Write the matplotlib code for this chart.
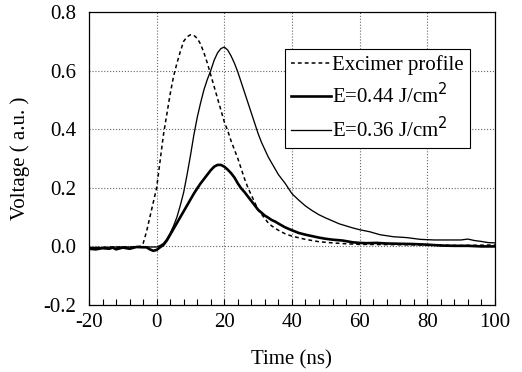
import matplotlib
matplotlib.use("Agg")
import matplotlib.pyplot as plt
from matplotlib.ticker import MultipleLocator, FuncFormatter

plt.rcParams['font.family'] = ['Liberation Serif', 'DejaVu Serif']
plt.rcParams['axes.unicode_minus'] = False

# Excimer laser pulse profile (dashed)
t_exc = [-20, -18, -16, -14, -12, -10, -8, -6, -5, -4, -3, -2, -1, 0, 1, 2, 3, 4, 5,
         6, 7, 8, 9, 10, 11, 12, 13, 14, 15, 16, 17, 18, 19, 20, 21, 22, 23, 24, 25,
         26, 27, 28, 29, 30, 31, 32, 33, 34, 36, 38, 40, 44, 48, 52, 56, 60, 70, 80,
         90, 100]
v_exc = [-0.005, -0.004, -0.003, -0.002, -0.003, -0.002, -0.003, -0.001, 0.0, 0.01,
         0.05, 0.10, 0.15, 0.20, 0.29, 0.38, 0.45, 0.52, 0.58, 0.625, 0.665, 0.70,
         0.715, 0.722, 0.72, 0.71, 0.69, 0.66, 0.625, 0.585, 0.545, 0.505, 0.465,
         0.425, 0.395, 0.36, 0.33, 0.30, 0.265, 0.23, 0.20, 0.175, 0.15, 0.125, 0.11,
         0.095, 0.08, 0.07, 0.055, 0.043, 0.035, 0.024, 0.016, 0.012, 0.009, 0.007,
         0.006, 0.005, 0.003, 0.005]

# E = 0.44 J/cm2 (thick line)
t_044 = [-20, -18, -16, -14, -13, -12, -10, -8, -6, -4, -3, -2, -1, 0, 1, 2, 3, 4, 5,
         6, 7, 8, 9, 10, 11, 12, 13, 14, 15, 16, 17, 18, 19, 20, 21, 22, 23, 24, 25,
         26, 27, 28, 29, 30, 31, 32, 33, 34, 35, 36, 38, 40, 42, 44, 46, 48, 50, 52,
         55, 58, 60, 62, 65, 68, 72, 76, 80, 84, 88, 92, 96, 100]
v_044 = [-0.008, -0.01, -0.006, -0.008, -0.004, -0.01, -0.004, -0.008, -0.002,
         -0.003, -0.003, -0.01, -0.015, -0.012, -0.003, 0.005, 0.02, 0.04, 0.06,
         0.08, 0.10, 0.12, 0.14, 0.16, 0.18, 0.198, 0.215, 0.23, 0.245, 0.26, 0.272,
         0.278, 0.278, 0.272, 0.262, 0.25, 0.235, 0.215, 0.198, 0.185, 0.17, 0.155,
         0.14, 0.125, 0.115, 0.105, 0.098, 0.09, 0.085, 0.078, 0.065, 0.055, 0.046,
         0.04, 0.035, 0.03, 0.026, 0.023, 0.02, 0.014, 0.012, 0.011, 0.012, 0.01,
         0.009, 0.008, 0.006, 0.003, 0.002, 0.002, 0.0, 0.0]

# E = 0.36 J/cm2 (thin line)
t_036 = [-20, -16, -12, -8, -4, -2, 0, 1, 2, 3, 4, 5, 6, 7, 8, 9, 10, 11, 12, 13, 14,
         15, 16, 17, 18, 19, 20, 21, 22, 23, 24, 25, 26, 27, 28, 29, 30, 31, 32, 33,
         34, 35, 36, 37, 38, 40, 42, 44, 46, 48, 50, 52, 54, 56, 58, 60, 63, 66, 70,
         74, 78, 82, 86, 90, 92, 94, 96, 98, 100]
v_036 = [-0.003, -0.004, -0.002, -0.002, -0.001, -0.002, -0.002, 0.003, 0.01, 0.025,
         0.045, 0.07, 0.10, 0.14, 0.185, 0.245, 0.31, 0.38, 0.44, 0.49, 0.535, 0.57,
         0.60, 0.635, 0.66, 0.675, 0.68, 0.67, 0.65, 0.625, 0.595, 0.56, 0.525, 0.49,
         0.455, 0.42, 0.385, 0.355, 0.33, 0.305, 0.285, 0.265, 0.245, 0.23, 0.215,
         0.18, 0.158, 0.138, 0.122, 0.108, 0.097, 0.087, 0.077, 0.07, 0.063, 0.057,
         0.05, 0.04, 0.033, 0.03, 0.024, 0.022, 0.022, 0.022, 0.025, 0.02, 0.017,
         0.013, 0.012]

fig = plt.figure(figsize=(5.22, 3.72), dpi=100)
ax = fig.add_axes([0.1705, 0.180, 0.7775, 0.788])

ax.plot(t_exc, v_exc, color='black', lw=1.1, ls=(0, (2.5, 2)), label='Excimer profile')
ax.plot(t_044, v_044, color='black', lw=1.9, label='E=0.44 J/cm$^2$')
ax.plot(t_036, v_036, color='black', lw=0.95, label='E=0.36 J/cm$^2$')

ax.set_xlim(-20, 100)
ax.set_ylim(-0.2, 0.8)
ax.xaxis.set_major_locator(MultipleLocator(20))
ax.xaxis.set_minor_locator(MultipleLocator(4))
ax.yaxis.set_major_locator(MultipleLocator(0.2))
ax.xaxis.set_major_formatter(FuncFormatter(lambda v, p: '%d' % round(v)))
ax.yaxis.set_major_formatter(FuncFormatter(lambda v, p: '%.1f' % v))

ax.tick_params(axis='x', which='both', direction='in', length=4, width=0.8,
               labelsize=15, pad=6)
ax.tick_params(axis='y', which='both', length=0, labelsize=15, pad=9)
ax.set_axisbelow(True)
ax.grid(True, which='major', axis='both', color='#666666', linestyle=':', linewidth=0.8)
for s in ax.spines.values():
    s.set_linewidth(0.9)

ax.set_xlabel('Time (ns)', fontsize=15, labelpad=13)
ax.set_ylabel('Voltage ( a.u. )', fontsize=15, labelpad=10)

leg = ax.legend(loc='upper right', bbox_to_anchor=(0.938, 0.874), fontsize=15,
                frameon=True, fancybox=False, framealpha=1, edgecolor='black',
                handlelength=1.9, handletextpad=0.05, labelspacing=0.4,
                borderpad=0.3, borderaxespad=0)
leg.get_frame().set_linewidth(0.8)

fig.savefig('out.png', dpi=100)
